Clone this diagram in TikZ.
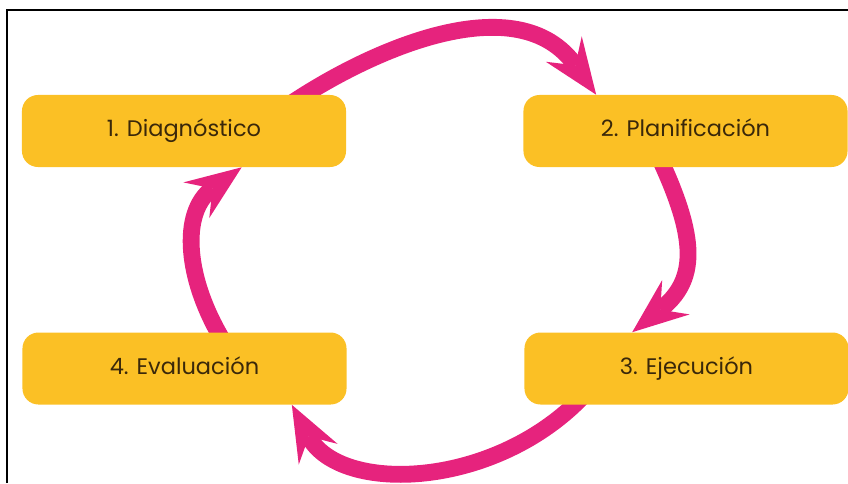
\documentclass[tikz,border=0pt]{standalone}
\usepackage{fontspec}
\setmainfont{Poppins}
\usetikzlibrary{arrows.meta,calc,backgrounds}
\definecolor{boxyellow}{RGB}{251,192,37}
\definecolor{cyclepink}{RGB}{230,35,125}
\definecolor{textbrown}{RGB}{58,40,10}

\begin{document}
\begin{tikzpicture}[x=.025cm, y=-.025cm,
    stage/.style={fill=boxyellow, rounded corners=.4cm, minimum width=8.1cm, minimum height=1.8cm, text height=.95em, text depth=.15em, text=textbrown, font=\fontsize{16}{19}\selectfont},
    cyclearrow/.style={draw=cyclepink, line width=.42cm, -{Stealth[length=1.4cm, width=1.1cm, inset=.5cm, line width=0pt]}}]
\useasboundingbox (0,0) rectangle (848,483);
\path[draw, line width=1.4pt] (7,483) -- (7,10) -- (848,10);

\foreach \n/\x/\y/\t in {diag/184/131/1. Diagnóstico, plan/685.5/131/2. Planificación, ejec/686.5/368.5/3. Ejecución, eval/184.5/368.5/4. Evaluación}{
    \node[stage] (\n) at (\x,\y) {\t};
}

% arrows behind the boxes
\begin{scope}[on background layer]
\draw[cyclearrow] ($(diag.north east)+(-60,12)$) .. controls +(85,-58) and +(-78,-110) .. ($(plan.north west)+(73,0)$);
\draw[cyclearrow] ($(plan.south west)+(135,-12)$) .. controls +(40,85) and +(65,-52) .. ($(ejec.north west)+(108,0)$);
\draw[cyclearrow] ($(ejec.south west)+(62,-12)$) .. controls +(-89,97) and +(48,90) .. ($(eval.south east)+(-55,0)$);
\draw[cyclearrow] ($(eval.north west)+(203,12)$) .. controls +(-40,-64) and +(-62,45) .. ($(diag.south west)+(220,0)$);
\end{scope}
\end{tikzpicture}
\end{document}
